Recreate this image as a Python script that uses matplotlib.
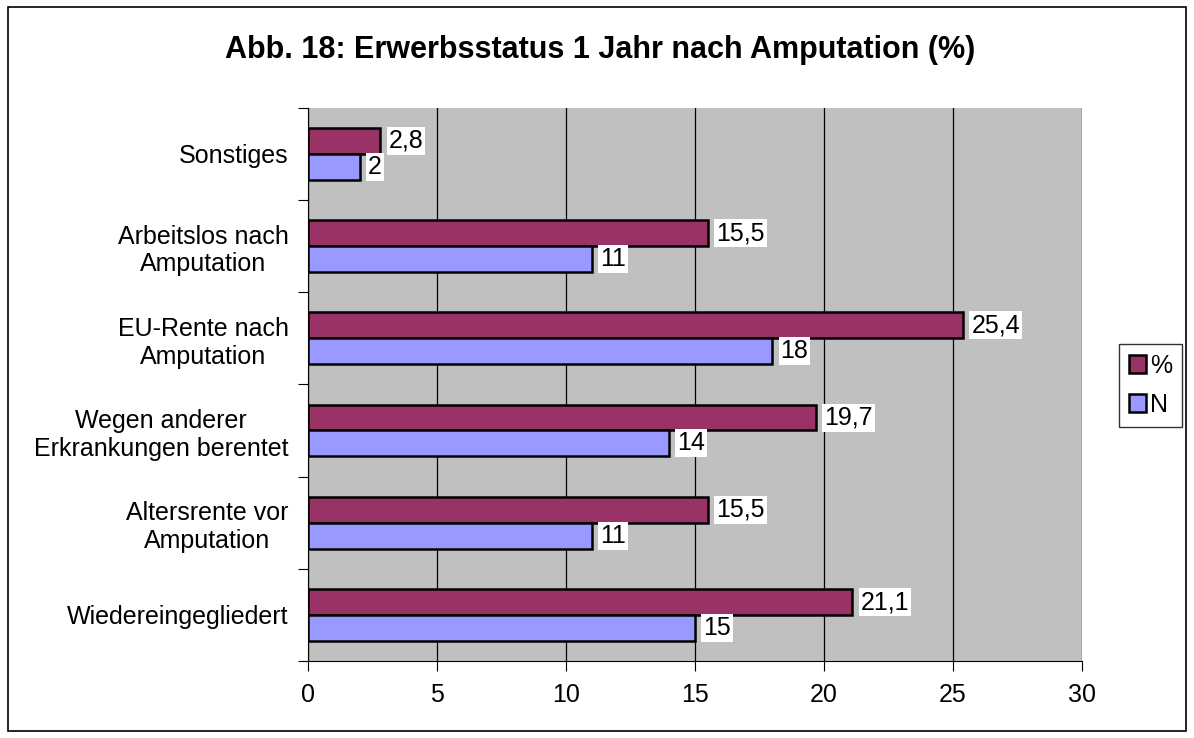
import numpy as np
import matplotlib.pyplot as plt
from matplotlib.patches import Rectangle

plt.rcParams['font.family'] = ['Liberation Sans', 'DejaVu Sans']

categories = ['Wiedereingegliedert', 'Altersrente vor\nAmputation',
              'Wegen anderer\nErkrankungen berentet', 'EU-Rente nach\nAmputation',
              'Arbeitslos nach\nAmputation', 'Sonstiges']
prozent = [21.1, 15.5, 19.7, 25.4, 15.5, 2.8]
anzahl = [15, 11, 14, 18, 11, 2]
series_names = ['%', 'N']

fig = plt.figure(figsize=(11.94, 7.38), dpi=100)
fig.patches.append(Rectangle((0.007, 0.009), 0.986, 0.982, transform=fig.transFigure,
                             fill=False, edgecolor='black', linewidth=1.2))
ax = fig.add_axes([0.258, 0.1043, 0.648, 0.7497])
ax.set_facecolor('#C0C0C0')

y = np.arange(len(categories))
h = 0.28
b1 = ax.barh(y + h / 2, prozent, h, color='#993366', edgecolor='black', linewidth=1.8,
             label=series_names[0], zorder=3)
b2 = ax.barh(y - h / 2, anzahl, h, color='#9999FF', edgecolor='black', linewidth=1.8,
             label=series_names[1], zorder=3)

def fmt(v):
    return ('%g' % v).replace('.', ',')

for bars, vals in ((b1, prozent), (b2, anzahl)):
    for r, v in zip(bars, vals):
        ax.annotate(fmt(v), (r.get_width(), r.get_y() + r.get_height() / 2),
                    xytext=(6, 0), textcoords='offset points', va='center', ha='left',
                    fontsize=18, zorder=5,
                    bbox=dict(boxstyle='square,pad=0.08', facecolor='white', edgecolor='none'))

ax.set_xlim(0, 30)
ax.set_ylim(-0.5, len(categories) - 0.5)
ax.set_xticks(np.arange(0, 31, 5))
ax.set_yticks(np.arange(-0.5, len(categories), 1), minor=False)
ax.set_yticklabels([])
ax.set_yticks(y, minor=True)
ax.set_yticklabels(categories, minor=True, fontsize=18, ha='right', multialignment='center')
ax.tick_params(axis='y', which='minor', length=0, pad=14)
ax.tick_params(axis='y', which='major', length=7, direction='out')
ax.tick_params(axis='x', length=7, direction='out', labelsize=18, pad=9)
ax.grid(axis='x', color='black', linewidth=0.9, zorder=1)
for s in ['top', 'right']:
    ax.spines[s].set_visible(False)

fig.suptitle('Abb. 18: Erwerbsstatus 1 Jahr nach Amputation (%)', fontsize=22,
             fontweight='bold', x=0.503, y=0.932, va='center')

leg = fig.legend(handles=[b1, b2], loc='center left', bbox_to_anchor=(0.937, 0.478),
                 fontsize=18, frameon=True, fancybox=False, edgecolor='black',
                 handlelength=0.7, handleheight=0.7, handletextpad=0.15, borderpad=0.4,
                 borderaxespad=0, labelspacing=0.6)
leg.get_frame().set_linewidth(1)

fig.savefig('out.png', dpi=100)
